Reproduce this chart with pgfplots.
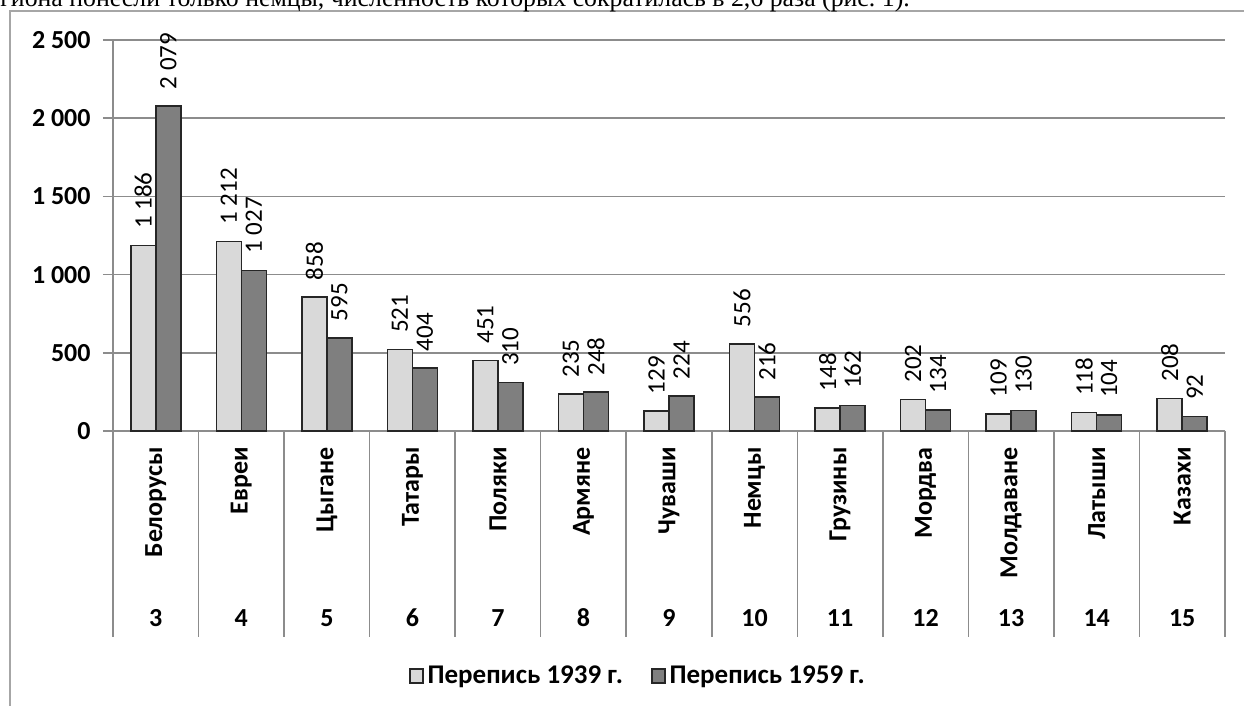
\documentclass[border=0pt]{standalone}
\usepackage{pgfplots}
\pgfplotsset{compat=1.18}
\usepackage{fontspec}
\setmainfont{Carlito}
\newfontfamily\serifff{Liberation Serif}
\definecolor{barlight}{HTML}{D9D9D9}
\definecolor{bardark}{HTML}{7F7F7F}
\definecolor{gridc}{HTML}{8C8C8C}
\definecolor{framec}{HTML}{A6A6A6}
\pgfplotsset{sqlegend/.style={legend image code/.code={\draw[##1] (0pt,-3.5pt) rectangle (6.5pt,3.5pt);}}}
\begin{document}
\begin{tikzpicture}
\useasboundingbox (0,0) rectangle (622pt,353pt);
\begin{scope}[x=0.5pt,y=-0.5pt,yshift=353pt]
  \draw[framec, line width=0.9pt] (10,706) -- (10,11) -- (1244,11);
  \node[anchor=base west, inner sep=0pt, font=\serifff\fontsize{12.9}{15}\selectfont] at (0,7)
    {гиона понесли только немцы, численность которых сократилась в 2,6 раза (рис.~1).};
\end{scope}
\begin{axis}[
  at={(56.5pt,137.5pt)}, anchor=south west,
  scale only axis, width=556pt, height=195.5pt,
  xmin=-0.5, xmax=12.5, ymin=0, ymax=2500,
  ybar=0pt, bar width=12.5pt,
  axis lines*=left,
  axis line style={gridc, line width=0.8pt},
  ytick={0,500,1000,1500,2000,2500},
  ymajorgrids, grid style={gridc, line width=0.8pt},
  ytick style={gridc, line width=0.8pt},
  tick align=outside, major tick length=5pt,
  xtick={0,...,12}, xtick style={draw=none},
  xticklabels={Белорусы,Евреи,Цыгане,Татары,Поляки,Армяне,Чуваши,Немцы,Грузины,Мордва,Молдаване,Латыши,Казахи},
  x tick label style={rotate=90, anchor=east, inner xsep=3pt, inner ysep=0pt, font=\bfseries\fontsize{13}{15}\selectfont},
  y tick label style={font=\bfseries\fontsize{13}{15}\selectfont, inner xsep=6pt},
  /pgf/number format/assume math mode=true,
  /pgf/number format/1000 sep={\ },
  nodes near coords,
  every node near coord/.append style={rotate=90, anchor=west, inner xsep=8pt, inner ysep=0pt, text=black, font=\fontsize{12.5}{14}\selectfont},
  clip=false,
  legend style={at={(0.473,-0.627)}, anchor=center, draw=none, fill=none,
    font=\bfseries\fontsize{13.5}{15}\selectfont,
    /tikz/every even column/.append style={column sep=12pt}},
  legend columns=2,
]
\addplot[fill=barlight, draw=black!85, line width=0.8pt, sqlegend]
  coordinates {(0,1186) (1,1212) (2,858) (3,521) (4,451) (5,235) (6,129) (7,556) (8,148) (9,202) (10,109) (11,118) (12,208)};
\addplot[fill=bardark, draw=black!85, line width=0.8pt, sqlegend]
  coordinates {(0,2079) (1,1027) (2,595) (3,404) (4,310) (5,248) (6,224) (7,216) (8,162) (9,134) (10,130) (11,104) (12,92)};
\legend{Перепись 1939 г.,Перепись 1959 г.}
\foreach \i in {-0.5,0.5,1.5,2.5,3.5,4.5,5.5,6.5,7.5,8.5,9.5,10.5,11.5,12.5} {
  \edef\tmp{\noexpand\draw[gridc, line width=0.8pt] (axis cs:\i,0) -- (axis cs:\i,-1317);}\tmp
}
\foreach \i in {0,...,12} {
  \pgfmathtruncatemacro{\n}{\i+3}
  \edef\tmp{\noexpand\node[font=\noexpand\bfseries\noexpand\fontsize{13}{15}\noexpand\selectfont] at (axis cs:\i,-1196) {\n};}\tmp
}
\end{axis}
\end{tikzpicture}
\end{document}
